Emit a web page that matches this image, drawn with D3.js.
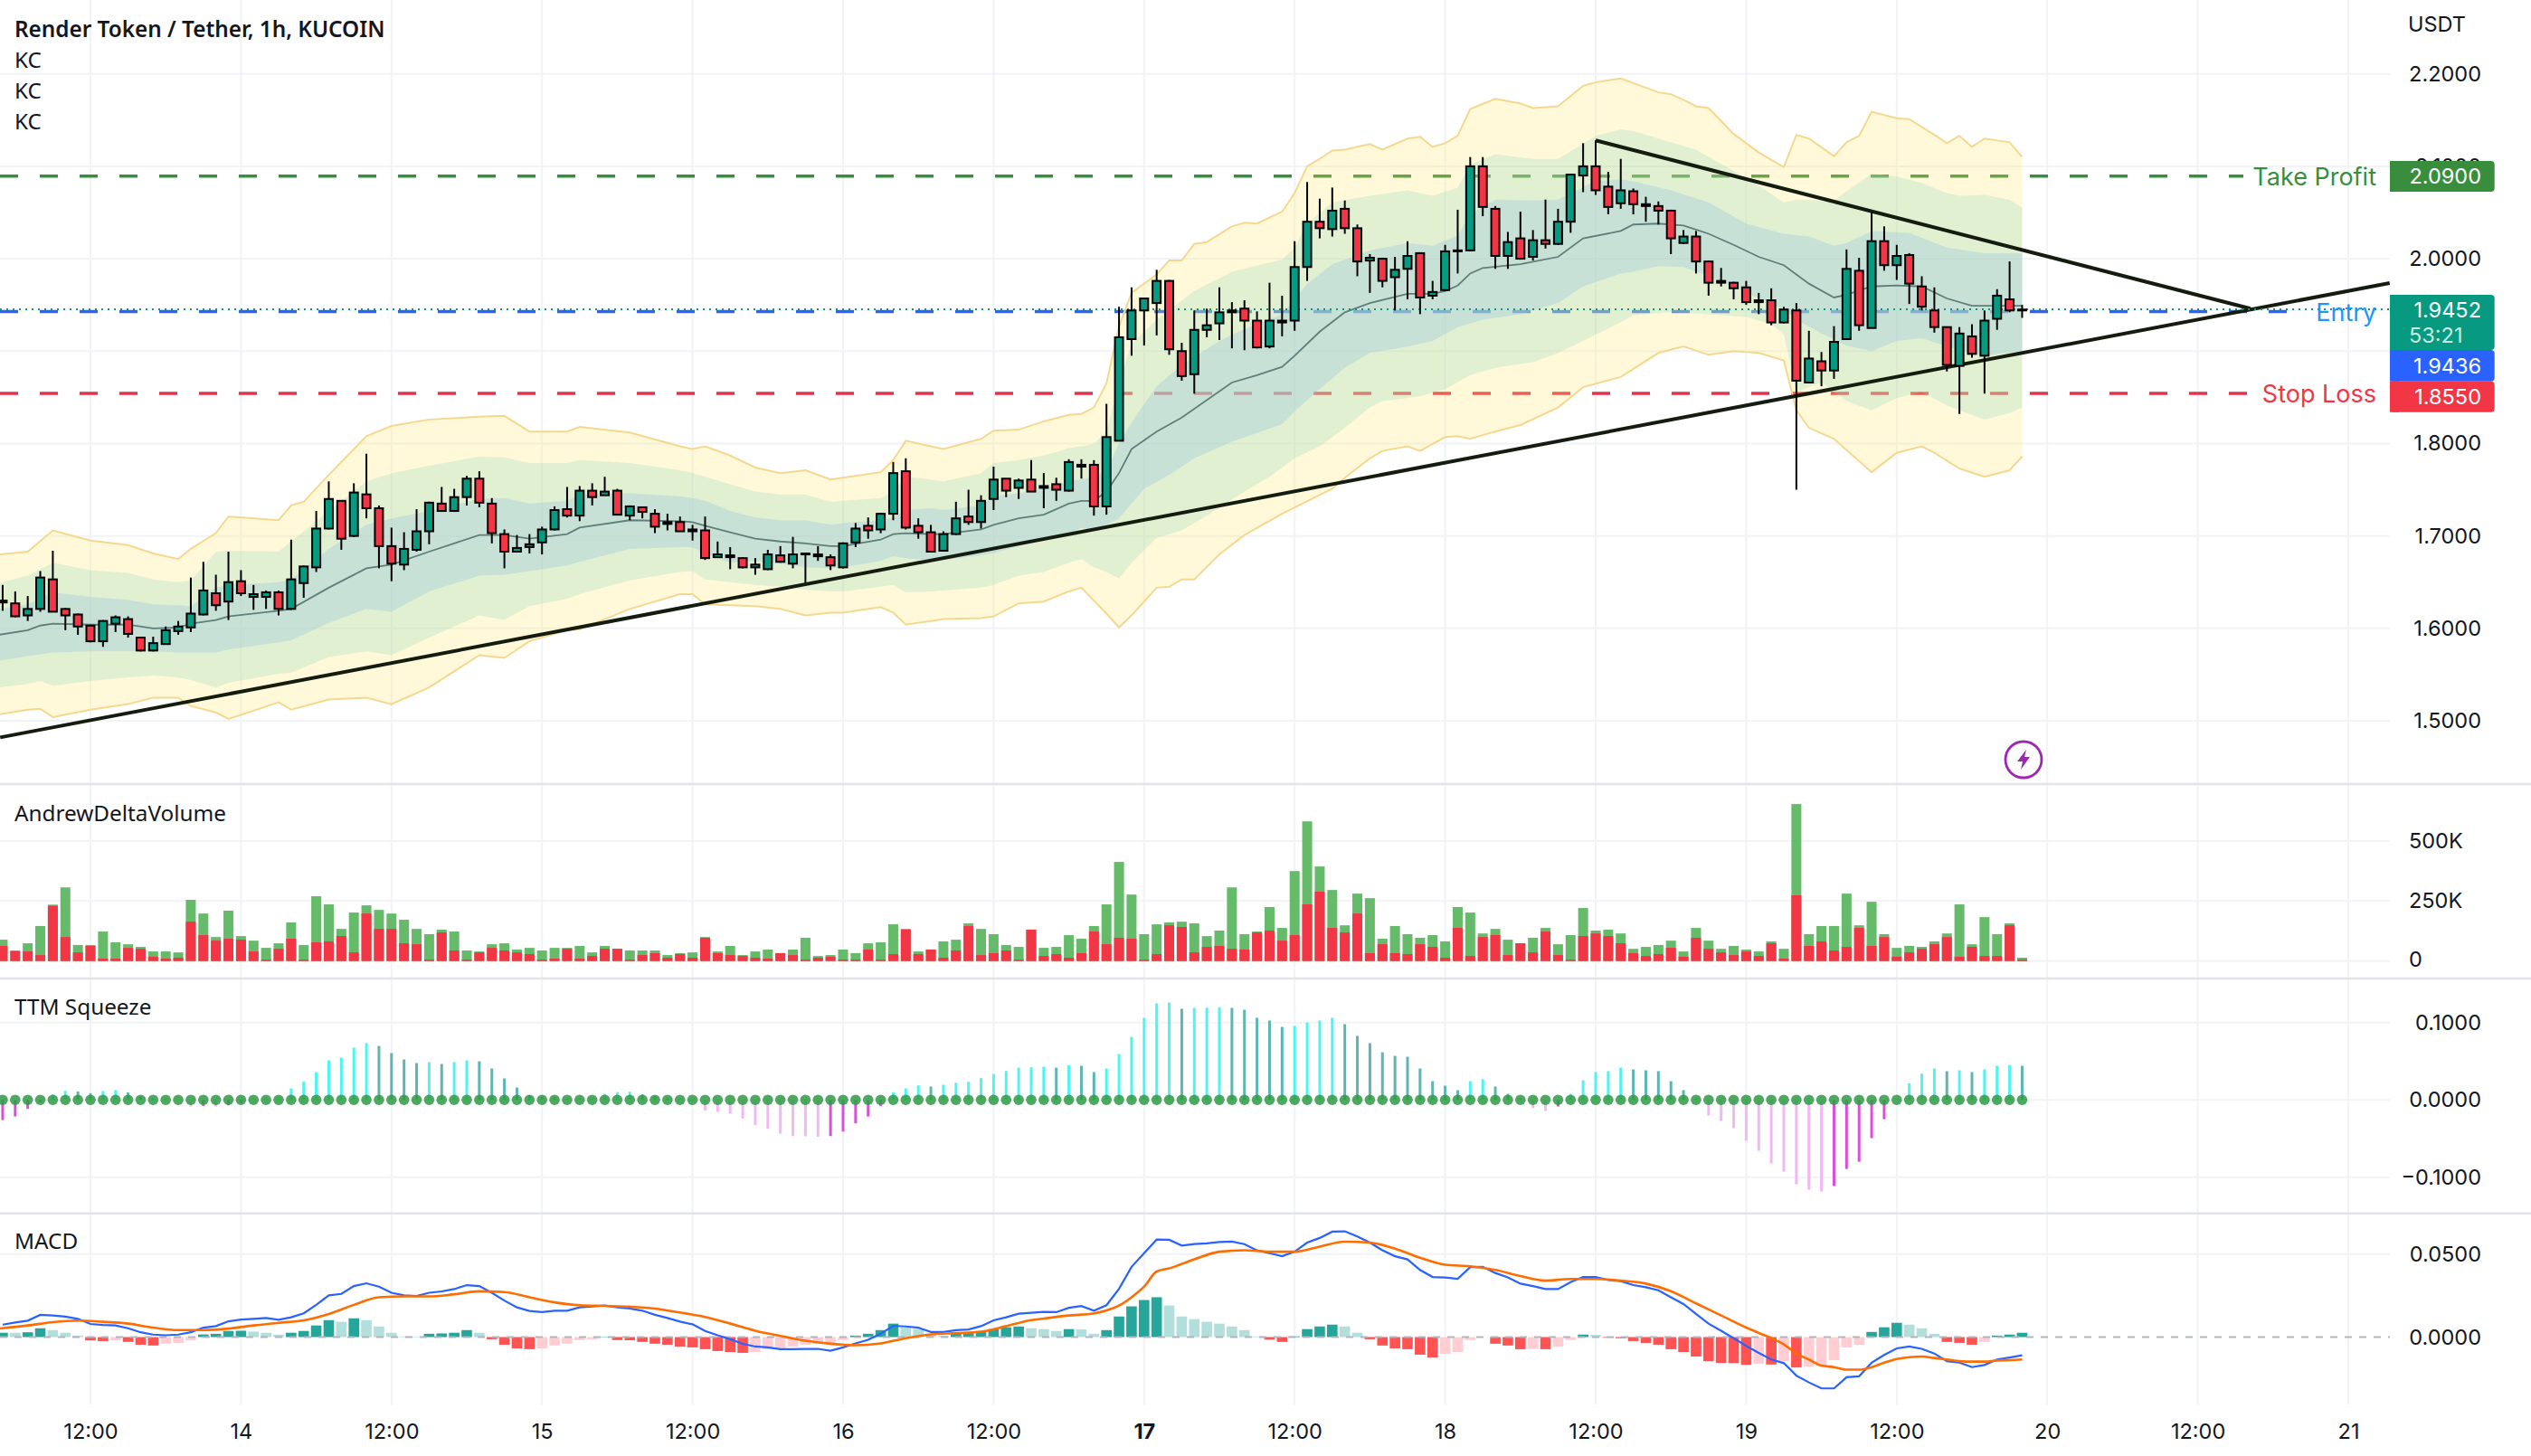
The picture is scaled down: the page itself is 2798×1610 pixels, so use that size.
<!DOCTYPE html>
<html>
<head>
<meta charset="utf-8">
<script src="https://cdn.jsdelivr.net/npm/d3@7"></script>
<style>
  body { margin: 0; background: #fff; }
  text { font-family: Inter, sans-serif; fill: #131722; }
  .leg { font-family: "Noto Sans", sans-serif; }
</style>
</head>
<body>
<script>
const W = 2798, H = 1610;

// hours since 12:00 on the 13th, first candle is at -7, last one at 154
const firstHour = -7;

const opens = [
  1.628,1.627,1.614,1.621,1.653,1.621,1.615,1.603,1.586,1.605,
  1.610,1.590,1.576,1.583,1.597,1.601,1.615,1.638,1.629,1.651,
  1.634,1.634,1.639,1.621,1.649,1.666,1.708,1.738,1.700,1.745,
  1.730,1.689,1.669,1.685,1.705,1.735,1.727,1.742,1.762,1.735,
  1.702,1.683,1.688,1.693,1.707,1.729,1.722,1.749,1.744,1.749,
  1.722,1.731,1.724,1.713,1.715,1.707,1.706,1.677,1.677,1.676,
  1.666,1.664,1.679,1.670,1.680,1.678,1.677,1.666,1.693,1.711,
  1.707,1.724,1.770,1.711,1.704,1.684,1.702,1.721,1.715,1.740,
  1.762,1.752,1.761,1.752,1.756,1.749,1.775,1.777,1.732,1.803,
  1.913,1.944,1.952,1.976,1.900,1.875,1.923,1.930,1.942,1.946,
  1.933,1.905,1.931,1.933,1.991,2.040,2.032,2.054,2.033,1.998,
  2.000,1.980,1.989,2.006,1.960,1.966,2.008,2.009,2.100,2.054,
  2.003,2.022,2.002,2.020,2.016,2.040,2.090,2.100,2.078,2.060,
  2.073,2.057,2.057,2.052,2.017,2.024,1.997,1.974,1.974,1.969,
  1.953,1.955,1.931,1.944,1.866,1.889,1.879,1.913,1.987,1.925,
  2.019,1.993,2.004,1.970,1.944,1.926,1.884,1.916,1.895,1.935,
  1.956,1.944];
const highs = [
  1.647,1.640,1.635,1.662,1.684,1.622,1.616,1.604,1.609,1.614,
  1.613,1.590,1.591,1.602,1.608,1.655,1.672,1.658,1.683,1.663,
  1.647,1.641,1.641,1.696,1.668,1.727,1.759,1.738,1.757,1.789,
  1.733,1.709,1.704,1.729,1.737,1.753,1.751,1.765,1.770,1.741,
  1.707,1.701,1.702,1.710,1.732,1.753,1.754,1.757,1.764,1.751,
  1.733,1.731,1.729,1.724,1.721,1.712,1.721,1.694,1.688,1.677,
  1.676,1.685,1.689,1.699,1.682,1.689,1.680,1.693,1.714,1.720,
  1.725,1.780,1.784,1.719,1.712,1.705,1.737,1.750,1.744,1.775,
  1.762,1.762,1.782,1.768,1.763,1.783,1.783,1.782,1.843,1.948,
  1.969,1.958,1.988,1.977,1.909,1.944,1.946,1.969,1.953,1.955,
  1.943,1.974,1.960,2.019,2.083,2.065,2.077,2.063,2.037,2.005,
  2.001,2.002,2.019,2.007,1.976,2.015,2.053,2.110,2.110,2.057,
  2.029,2.051,2.031,2.064,2.054,2.092,2.125,2.128,2.094,2.108,
  2.076,2.067,2.062,2.053,2.031,2.030,1.998,1.990,1.975,1.976,
  1.963,1.968,1.948,1.952,1.922,1.899,1.927,2.010,2.001,2.051,
  2.035,2.015,2.006,1.981,1.969,1.926,1.926,1.929,1.944,1.967,
  1.997,1.950];
const lows = [
  1.619,1.612,1.608,1.618,1.618,1.598,1.593,1.585,1.580,1.596,
  1.590,1.575,1.575,1.583,1.593,1.596,1.614,1.619,1.609,1.635,
  1.620,1.621,1.614,1.620,1.633,1.661,1.707,1.685,1.699,1.719,
  1.665,1.651,1.663,1.683,1.691,1.727,1.726,1.733,1.731,1.692,
  1.665,1.683,1.681,1.680,1.706,1.720,1.716,1.733,1.744,1.723,
  1.717,1.719,1.703,1.706,1.705,1.695,1.674,1.677,1.664,1.665,
  1.658,1.663,1.671,1.665,1.649,1.673,1.663,1.665,1.688,1.697,
  1.703,1.717,1.707,1.697,1.683,1.683,1.701,1.712,1.708,1.728,
  1.742,1.740,1.748,1.730,1.738,1.748,1.762,1.722,1.723,1.803,
  1.895,1.906,1.917,1.896,1.868,1.854,1.915,1.912,1.903,1.901,
  1.903,1.903,1.916,1.922,1.976,2.022,2.024,2.027,1.981,1.963,
  1.969,1.944,1.956,1.940,1.956,1.965,1.984,2.008,2.046,1.989,
  1.989,1.999,1.998,2.011,2.015,2.028,2.072,2.069,2.048,2.054,
  2.048,2.040,2.037,2.005,2.016,1.984,1.960,1.970,1.956,1.950,
  1.940,1.928,1.930,1.750,1.866,1.862,1.870,1.912,1.922,1.925,
  1.987,1.977,1.951,1.944,1.920,1.878,1.832,1.893,1.854,1.923,
  1.942,1.936];
const closes = [
  1.630,1.613,1.621,1.655,1.618,1.614,1.602,1.586,1.608,1.612,
  1.594,1.576,1.584,1.598,1.602,1.616,1.641,1.625,1.650,1.638,
  1.637,1.639,1.621,1.653,1.667,1.708,1.740,1.697,1.747,1.730,
  1.689,1.670,1.686,1.705,1.736,1.727,1.742,1.762,1.736,1.703,
  1.683,1.687,1.691,1.707,1.728,1.722,1.749,1.742,1.748,1.723,
  1.732,1.726,1.710,1.715,1.705,1.705,1.676,1.680,1.679,1.666,
  1.669,1.680,1.672,1.680,1.681,1.680,1.668,1.692,1.708,1.706,
  1.724,1.768,1.709,1.704,1.683,1.702,1.719,1.715,1.738,1.761,
  1.749,1.760,1.748,1.754,1.750,1.780,1.777,1.732,1.807,1.915,
  1.944,1.957,1.976,1.902,1.873,1.923,1.928,1.942,1.944,1.933,
  1.904,1.933,1.933,1.991,2.040,2.033,2.052,2.033,1.997,2.001,
  1.976,1.988,2.003,1.958,1.964,2.008,2.009,2.100,2.056,2.003,
  2.018,2.000,2.020,2.016,2.040,2.091,2.100,2.074,2.056,2.074,
  2.059,2.059,2.052,2.022,2.024,1.997,1.974,1.976,1.968,1.953,
  1.955,1.931,1.945,1.868,1.892,1.879,1.910,1.989,1.928,2.019,
  1.993,2.003,1.973,1.948,1.926,1.885,1.919,1.897,1.933,1.960,
  1.944,1.945];

// KC bands, [hour, price]
const kcOuterTop = [[-7.3,1.680],[-5,1.683],[-3,1.706],[0,1.695],[3,1.690],[5,1.681],[7,1.675],[8,1.686],[10,1.703],[11,1.721],[15,1.717],[16,1.733],[17,1.737],[19,1.766],[22,1.808],[24,1.819],[27,1.826],[31,1.829],[33,1.830],[35,1.813],[38,1.813],[39,1.818],[43,1.812],[47,1.797],[48,1.794],[49,1.797],[51,1.787],[53,1.774],[55,1.768],[57,1.771],[59,1.761],[60,1.763],[63,1.769],[64,1.782],[65,1.803],[67,1.797],[68,1.794],[71,1.805],[72,1.814],[74,1.815],[76,1.824],[78,1.831],[79,1.832],[80,1.839],[81,1.865],[82,1.927],[83,1.963],[85,1.983],[86,1.998],[87,1.998],[88,2.016],[89,2.018],[91,2.035],[92,2.039],[93,2.038],[95,2.051],[96,2.071],[97,2.100],[98,2.108],[99,2.117],[100,2.118],[102,2.124],[103,2.118],[105,2.130],[106,2.132],[107,2.121],[108,2.125],[109,2.133],[110,2.162],[112,2.173],[114,2.168],[115,2.163],[117,2.165],[119,2.187],[120,2.191],[122,2.195],[123,2.190],[125,2.180],[126,2.178],[127,2.172],[128,2.165],[129,2.163],[131,2.135],[133,2.115],[135,2.099],[136,2.134],[137,2.130],[139,2.111],[140,2.126],[141,2.133],[142,2.159],[144,2.152],[145,2.151],[147,2.134],[148,2.125],[149,2.133],[150,2.121],[151,2.130],[153,2.126],[154,2.110]];
const kcMiddleTop = [[-7.3,1.649],[-5,1.657],[-3,1.671],[0,1.663],[3,1.660],[5,1.653],[7,1.650],[8,1.652],[10,1.683],[11,1.684],[15,1.683],[16,1.694],[19,1.727],[22,1.759],[24,1.768],[27,1.776],[31,1.786],[33,1.785],[35,1.779],[38,1.779],[39,1.782],[43,1.779],[47,1.771],[48,1.768],[49,1.764],[51,1.756],[53,1.748],[55,1.745],[57,1.745],[59,1.737],[60,1.738],[63,1.741],[64,1.748],[65,1.764],[67,1.761],[68,1.759],[71,1.768],[72,1.779],[74,1.782],[76,1.787],[78,1.795],[79,1.797],[80,1.800],[81,1.813],[82,1.866],[83,1.908],[85,1.934],[88,1.965],[91,1.986],[95,1.999],[96,2.012],[97,2.038],[99,2.061],[102,2.068],[105,2.074],[107,2.068],[109,2.077],[110,2.102],[112,2.113],[115,2.108],[117,2.108],[120,2.133],[122,2.140],[123,2.138],[126,2.126],[128,2.118],[131,2.095],[133,2.079],[135,2.061],[136,2.064],[139,2.063],[140,2.073],[142,2.092],[144,2.089],[146,2.082],[148,2.071],[149,2.068],[151,2.069],[153,2.064],[154,2.055]];
const kcInnerTop = [[-7.3,1.621],[-5,1.626],[-3,1.639],[0,1.634],[3,1.631],[5,1.626],[7,1.625],[8,1.624],[10,1.644],[11,1.647],[15,1.650],[16,1.653],[19,1.686],[22,1.712],[24,1.719],[27,1.727],[31,1.740],[33,1.741],[35,1.735],[38,1.738],[39,1.745],[43,1.746],[47,1.743],[48,1.741],[49,1.738],[51,1.727],[53,1.720],[55,1.717],[57,1.717],[59,1.712],[60,1.714],[63,1.717],[64,1.720],[65,1.728],[67,1.730],[68,1.728],[71,1.733],[72,1.743],[74,1.746],[76,1.751],[78,1.759],[79,1.761],[80,1.764],[81,1.771],[82,1.800],[83,1.823],[85,1.862],[87,1.885],[90,1.911],[92,1.924],[95,1.940],[97,1.973],[99,1.994],[102,2.009],[105,2.017],[107,2.014],[109,2.025],[110,2.048],[112,2.064],[115,2.063],[117,2.064],[120,2.084],[122,2.086],[123,2.084],[126,2.074],[129,2.061],[132,2.038],[135,2.027],[137,2.024],[139,2.014],[140,2.017],[142,2.030],[145,2.028],[148,2.012],[151,2.006],[154,2.006]];
const kcBasis = [[-7.3,1.593],[-5,1.598],[-4,1.603],[-3,1.605],[0,1.604],[3,1.604],[5,1.600],[7,1.601],[8,1.605],[10,1.609],[11,1.613],[15,1.619],[16,1.621],[19,1.644],[22,1.665],[24,1.669],[27,1.683],[31,1.701],[33,1.701],[35,1.697],[38,1.702],[39,1.709],[43,1.717],[47,1.716],[48,1.715],[49,1.711],[51,1.704],[53,1.697],[55,1.694],[57,1.692],[59,1.689],[60,1.689],[63,1.696],[64,1.702],[65,1.703],[67,1.702],[68,1.702],[71,1.707],[72,1.712],[74,1.719],[76,1.723],[78,1.735],[79,1.738],[80,1.738],[81,1.748],[82,1.768],[83,1.794],[85,1.813],[87,1.828],[91,1.866],[93,1.874],[95,1.883],[96,1.895],[98,1.921],[100,1.942],[102,1.952],[105,1.962],[107,1.962],[108,1.965],[109,1.971],[110,1.984],[111,1.990],[114,1.994],[117,2.002],[119,2.022],[122,2.030],[123,2.037],[125,2.038],[127,2.036],[129,2.027],[131,2.015],[133,2.002],[135,1.993],[137,1.973],[139,1.958],[140,1.961],[142,1.970],[144,1.971],[146,1.970],[148,1.957],[150,1.949],[152,1.949],[154,1.949]];
const kcInnerBot = [[-7.3,1.565],[-5,1.570],[-3,1.574],[0,1.575],[3,1.575],[5,1.575],[7,1.574],[10,1.574],[11,1.577],[15,1.585],[16,1.587],[19,1.606],[22,1.621],[24,1.618],[27,1.640],[31,1.657],[33,1.658],[35,1.662],[38,1.668],[39,1.672],[43,1.686],[47,1.688],[48,1.688],[49,1.681],[51,1.671],[53,1.673],[55,1.670],[57,1.666],[59,1.665],[60,1.666],[63,1.673],[64,1.678],[65,1.676],[67,1.673],[68,1.674],[71,1.679],[72,1.681],[74,1.689],[76,1.696],[78,1.701],[79,1.709],[80,1.705],[81,1.712],[82,1.719],[84,1.751],[86,1.766],[88,1.784],[91,1.802],[95,1.821],[96,1.835],[98,1.859],[100,1.882],[102,1.898],[105,1.905],[107,1.911],[109,1.926],[111,1.934],[114,1.940],[117,1.952],[119,1.970],[122,1.984],[123,1.986],[125,1.992],[127,1.991],[129,1.981],[131,1.970],[133,1.957],[135,1.945],[136,1.934],[138,1.919],[140,1.906],[142,1.900],[144,1.911],[146,1.914],[148,1.905],[151,1.895],[154,1.900]];
const kcMiddleBot = [[-7.3,1.536],[-5,1.540],[-4,1.543],[-3,1.538],[0,1.543],[3,1.547],[5,1.549],[7,1.547],[8,1.544],[10,1.536],[11,1.541],[15,1.551],[16,1.552],[19,1.569],[22,1.575],[24,1.571],[27,1.590],[31,1.614],[33,1.609],[35,1.624],[38,1.632],[39,1.637],[43,1.652],[47,1.661],[48,1.662],[49,1.653],[51,1.650],[53,1.647],[55,1.645],[57,1.642],[59,1.640],[60,1.640],[63,1.645],[64,1.647],[65,1.639],[67,1.640],[68,1.641],[71,1.644],[72,1.647],[74,1.657],[76,1.661],[78,1.671],[79,1.675],[80,1.666],[81,1.661],[82,1.654],[83,1.671],[85,1.698],[87,1.706],[89,1.722],[92,1.748],[94,1.764],[96,1.784],[98,1.797],[100,1.817],[102,1.839],[103,1.846],[106,1.851],[108,1.859],[110,1.874],[112,1.882],[115,1.888],[117,1.898],[119,1.911],[122,1.931],[123,1.939],[126,1.942],[129,1.940],[132,1.937],[134,1.929],[135,1.918],[136,1.856],[138,1.866],[140,1.846],[142,1.836],[144,1.849],[146,1.856],[148,1.841],[151,1.826],[153,1.833],[154,1.839]];
const kcOuterBot = [[-7.3,1.507],[-5,1.512],[-4,1.513],[-3,1.504],[0,1.512],[3,1.518],[5,1.525],[7,1.525],[8,1.516],[10,1.509],[11,1.502],[15,1.520],[16,1.512],[19,1.523],[22,1.525],[24,1.518],[27,1.536],[31,1.571],[33,1.568],[35,1.586],[38,1.598],[39,1.599],[43,1.621],[47,1.637],[48,1.637],[49,1.626],[51,1.625],[53,1.624],[55,1.621],[57,1.614],[59,1.617],[60,1.617],[63,1.623],[64,1.617],[65,1.604],[67,1.608],[68,1.610],[71,1.611],[72,1.613],[74,1.627],[76,1.629],[78,1.640],[79,1.644],[80,1.630],[81,1.616],[82,1.601],[83,1.614],[85,1.644],[86,1.645],[87,1.653],[88,1.653],[90,1.680],[92,1.701],[95,1.724],[99,1.751],[100,1.763],[102,1.784],[103,1.792],[105,1.797],[106,1.792],[108,1.807],[109,1.808],[110,1.805],[112,1.813],[114,1.820],[117,1.839],[119,1.861],[122,1.872],[125,1.898],[127,1.905],[129,1.896],[131,1.900],[133,1.898],[135,1.890],[136,1.836],[137,1.817],[139,1.805],[142,1.769],[144,1.790],[146,1.797],[147,1.790],[149,1.773],[151,1.764],[153,1.771],[154,1.786]];

// hand drawn trend lines, [hour, price]
const trendUp = [[-7.2,1.482],[183.3,1.9736]];
const trendDown = [[120,2.128],[172.2,1.946]];

const levelPrices = [2.09, 1.9436, 1.855];
const levelNames = ["Take Profit", "Entry", "Stop Loss"];
const levelColors = ["#388e3c", "#2962ff", "#e3334c"];
const levelTextColors = ["#388e3c", "#2196f3", "#f23645"];
const levelEnds = [2480, 2528, 2484];
const lastPrice = 1.9452;

// volume pane, in thousands
const volTotal = [
  89,44,74,146,235,307,67,67,123,78,
  70,59,40,40,36,255,198,100,210,104,
  85,55,74,161,67,270,236,134,202,232,
  213,198,172,134,112,131,123,44,40,70,
  74,48,55,44,55,55,63,36,63,51,
  44,44,44,25,33,36,100,40,63,25,
  40,48,33,48,97,21,25,48,33,74,
  78,153,134,40,48,82,89,157,134,112,
  67,59,131,55,59,108,93,146,236,413,
  277,112,153,161,164,157,104,127,307,112,
  123,225,138,375,582,394,296,149,281,262,
  93,146,112,97,108,82,225,202,115,134,
  89,74,97,138,70,108,221,127,131,115,
  51,59,67,85,40,138,85,51,63,48,
  40,82,51,654,112,146,146,281,149,247,
  112,55,63,59,82,115,236,70,183,112,
  157,14];
const volSell = [
  63,41,40,25,230,100,36,63,10,10,
  55,51,18,10,14,164,108,85,93,89,
  40,6,51,93,6,78,82,104,36,198,
  134,134,74,70,6,119,44,6,36,55,
  44,36,29,6,10,51,10,21,51,51,
  6,25,33,14,29,14,97,33,25,21,
  14,10,33,25,6,14,18,6,6,48,
  6,29,131,29,48,14,44,146,25,33,
  44,6,131,21,29,14,33,123,70,97,
  93,6,29,149,142,36,59,63,51,48,
  119,127,85,108,236,289,138,119,198,33,
  70,33,29,70,59,14,138,21,100,108,
  25,74,36,123,25,6,104,115,104,74,
  33,21,29,55,18,97,51,36,25,40,
  21,74,10,274,63,82,44,59,138,63,
  100,18,36,51,70,100,18,59,21,21,
  149,6];

const squeeze = [
  -.0261,-.0214,-.0117,-.0031,.0070,.0117,.0109,.0086,.0113,.0125,
  .0097,.0047,.0020,.0012,.0004,-.0086,-.0078,-.0086,-.0070,-.0039,
  .0008,.0020,.0031,.0148,.0234,.0359,.0511,.0546,.0675,.0733,
  .0698,.0605,.0523,.0476,.0488,.0464,.0488,.0511,.0499,.0406,
  .0277,.0160,.0059,.0039,.0031,.0020,.0023,.0031,.0078,.0101,
  .0105,.0070,.0047,.0020,.0008,-.0020,-.0137,-.0156,-.0176,-.0242,
  -.0324,-.0374,-.0437,-.0468,-.0472,-.0476,-.0468,-.0410,-.0304,-.0215,
  -.0078,.0098,.0148,.0187,.0172,.0195,.0222,.0234,.0281,.0335,
  .0374,.0417,.0421,.0429,.0417,.0449,.0441,.0359,.0406,.0593,
  .0815,.1061,.1248,.1260,.1178,.1190,.1193,.1197,.1190,.1166,
  .1061,.1026,.0944,.0956,.1002,.1026,.1061,.0979,.0827,.0733,
  .0616,.0569,.0558,.0406,.0242,.0183,.0125,.0242,.0269,.0172,
  .0078,.0020,-.0105,-.0144,-.0086,.0078,.0254,.0359,.0371,.0417,
  .0394,.0382,.0371,.0242,.0125,.0020,-.0203,-.0273,-.0367,-.0530,
  -.0659,-.0823,-.0928,-.1092,-.1162,-.1186,-.1115,-.0893,-.0800,-.0495,
  -.0250,.0012,.0215,.0339,.0406,.0371,.0382,.0359,.0394,.0441,
  .0452,.0441];

const macdHist = [
  .0026,.0026,.0029,.0053,.0042,.0026,.0009,-.0020,-.0024,-.0020,
  -.0029,-.0046,-.0051,-.0040,-.0035,-.0020,.0016,.0020,.0037,.0038,
  .0033,.0026,.0015,.0026,.0037,.0070,.0102,.0092,.0113,.0102,
  .0064,.0026,.0004,.0003,.0020,.0022,.0026,.0042,.0026,-.0013,
  -.0046,-.0068,-.0073,-.0068,-.0051,-.0040,-.0018,-.0013,.0002,-.0018,
  -.0019,-.0029,-.0040,-.0046,-.0057,-.0062,-.0073,-.0084,-.0090,-.0095,
  -.0090,-.0073,-.0068,-.0057,-.0046,-.0040,-.0037,-.0018,.0009,.0020,
  .0042,.0081,.0059,.0048,.0020,.0009,.0020,.0026,.0031,.0048,
  .0059,.0064,.0053,.0048,.0037,.0048,.0046,.0020,.0042,.0124,
  .0185,.0223,.0240,.0190,.0124,.0108,.0092,.0081,.0064,.0042,
  .0004,-.0015,-.0029,.0004,.0048,.0064,.0075,.0064,.0026,-.0013,
  -.0051,-.0068,-.0073,-.0106,-.0123,-.0101,-.0090,-.0018,.0000,-.0040,
  -.0051,-.0073,-.0071,-.0073,-.0057,-.0018,.0015,.0013,-.0004,-.0007,
  -.0024,-.0035,-.0046,-.0073,-.0090,-.0117,-.0145,-.0156,-.0157,-.0167,
  -.0161,-.0165,-.0145,-.0183,-.0178,-.0172,-.0139,-.0062,-.0046,.0031,
  .0059,.0086,.0075,.0053,.0020,-.0029,-.0035,-.0046,-.0029,.0009,
  .0015,.0026];
const macdLine = [
  .0075,.0088,.0099,.0134,.0130,.0123,.0110,.0079,.0073,.0070,
  .0053,.0029,.0015,.0011,.0015,.0029,.0057,.0066,.0095,.0106,
  .0110,.0115,.0104,.0119,.0143,.0194,.0251,.0260,.0307,.0324,
  .0304,.0267,.0251,.0247,.0267,.0275,.0289,.0313,.0307,.0267,
  .0220,.0179,.0157,.0150,.0159,.0159,.0179,.0185,.0190,.0179,
  .0172,.0159,.0134,.0115,.0093,.0077,.0037,.0011,-.0013,-.0040,
  -.0057,-.0062,-.0073,-.0073,-.0071,-.0071,-.0082,-.0062,-.0038,-.0016,
  .0020,.0068,.0064,.0057,.0031,.0031,.0042,.0046,.0066,.0101,
  .0119,.0141,.0146,.0152,.0150,.0176,.0187,.0159,.0192,.0291,
  .0423,.0505,.0587,.0586,.0551,.0560,.0564,.0573,.0575,.0560,
  .0522,.0505,.0487,.0514,.0569,.0597,.0635,.0637,.0606,.0569,
  .0523,.0487,.0468,.0404,.0362,.0359,.0351,.0421,.0423,.0386,
  .0359,.0322,.0307,.0289,.0289,.0331,.0362,.0362,.0344,.0337,
  .0313,.0300,.0282,.0240,.0199,.0139,.0081,.0038,-.0007,-.0053,
  -.0095,-.0135,-.0157,-.0232,-.0273,-.0309,-.0309,-.0242,-.0236,-.0154,
  -.0108,-.0068,-.0057,-.0071,-.0099,-.0145,-.0154,-.0181,-.0168,-.0135,
  -.0123,-.0110];
const macdSignal = [[-7.3,.0051],[-5,.0070],[-3,.0090],[-1,.0099],[1,.0092],[3,.0081],[5,.0057],[7,.0042],[9,.0042],[11,.0051],[13,.0070],[15,.0086],[17,.0101],[19,.0139],[21,.0194],[23,.0240],[25,.0245],[27,.0245],[29,.0258],[31,.0276],[33,.0271],[35,.0240],[37,.0209],[39,.0192],[41,.0188],[43,.0183],[45,.0172],[47,.0148],[49,.0121],[51,.0081],[53,.0038],[55,.0007],[57,-.0022],[59,-.0040],[61,-.0049],[63,-.0038],[65,-.0007],[67,.0016],[69,.0024],[71,.0033],[73,.0066],[75,.0102],[76,.0112],[78,.0130],[80,.0143],[81,.0161],[82,.0190],[83,.0240],[84,.0304],[85,.0395],[86,.0414],[88,.0468],[90,.0514],[92,.0523],[94,.0514],[96,.0514],[98,.0545],[100,.0575],[102,.0569],[104,.0533],[106,.0478],[108,.0436],[110,.0426],[112,.0404],[114,.0368],[116,.0340],[118,.0350],[120,.0350],[122,.0340],[124,.0322],[126,.0276],[128,.0203],[130,.0130],[132,.0057],[134,-.0007],[135,-.0044],[136,-.0099],[137,-.0135],[138,-.0172],[139,-.0181],[140,-.0196],[141,-.0196],[142,-.0181],[143,-.0154],[144,-.0132],[145,-.0121],[146,-.0117],[147,-.0126],[148,-.0135],[149,-.0145],[150,-.0148],[151,-.0148],[152,-.0141],[153,-.0139],[154,-.0135]];

const priceGrid = [2.2, 2.1, 2.0, 1.9, 1.8, 1.7, 1.6, 1.5];
const priceTicks = [2.2, 2.1, 2.0, 1.8, 1.7, 1.6, 1.5]; // 1.9 is hidden behind the tags
const volTicks = [0, 250, 500];
const squeezeTicks = [-0.1, 0, 0.1];
const macdTicks = [0, 0.05];
const timeHours = d3.range(0, 181, 12);
const timeLabels = ["12:00","14","12:00","15","12:00","16","12:00","17","12:00","18","12:00","19","12:00","20","12:00","21"];

const paneW = 2642;

const x = d3.scaleLinear().domain([0, 180]).range([100, 2596]);
const yMain = d3.scaleLinear().domain([1.5, 2.2]).range([797, 81.7]);
const yVol = d3.scaleLinear().domain([0, 500]).range([1062.7, 930]);
const ySq = d3.scaleLinear().domain([-0.1, 0.1]).range([1301.7, 1130.7]);
const yMacd = d3.scaleLinear().domain([0, 0.05]).range([1478.5, 1386.7]);

const hours = opens.map((d, i) => firstHour + i);

const svg = d3.select("body").append("svg")
  .attr("width", W).attr("height", H)
  .style("display", "block");

svg.append("defs").append("clipPath").attr("id", "mainClip")
  .append("rect").attr("width", paneW).attr("height", 866);

//grid
const grid = svg.append("g").attr("stroke", "#f1f3f7").attr("stroke-width", 2);
grid.selectAll(".v").data(timeHours).enter().append("line")
  .attr("x1", d => x(d)).attr("x2", d => x(d))
  .attr("y1", 0).attr("y2", 1553);

const hGrid = [
  ...priceGrid.map(d => yMain(d)),
  ...volTicks.map(d => yVol(d)),
  ...squeezeTicks.map(d => ySq(d)),
  yMacd(0.05)
];
grid.selectAll(".h").data(hGrid).enter().append("line")
  .attr("x1", 0).attr("x2", paneW)
  .attr("y1", d => d).attr("y2", d => d);

// pane separators
svg.append("g").attr("stroke", "#e2e4ea").attr("stroke-width", 2.5)
  .selectAll("line").data([867, 1082, 1341.7]).enter().append("line")
  .attr("x1", 0).attr("x2", W).attr("y1", d => d).attr("y2", d => d);

const main = svg.append("g").attr("clip-path", "url(#mainClip)");

// levels, dashes stop in front of their labels
main.selectAll(".level").data(levelPrices).enter().append("line")
  .attr("x1", 0).attr("x2", (d, i) => levelEnds[i])
  .attr("y1", d => yMain(d) + 0.7).attr("y2", d => yMain(d) + 0.7)
  .attr("stroke", (d, i) => levelColors[i])
  .attr("stroke-width", 3.5)
  .attr("stroke-dasharray", "20 24");

const priceLine = d3.line().x(d => x(d[0])).y(d => yMain(d[1]));

// bands sit over the levels, that is why those look muted inside
const band = (top, bot) => priceLine(top.concat(bot.slice().reverse())) + "Z";
main.append("path").attr("d", band(kcOuterTop, kcOuterBot))
  .attr("fill", "rgb(255,231,109)").attr("fill-opacity", 0.25);
main.append("path").attr("d", band(kcMiddleTop, kcMiddleBot))
  .attr("fill", "rgb(158,219,192)").attr("fill-opacity", 0.3);
main.append("path").attr("d", band(kcInnerTop, kcInnerBot))
  .attr("fill", "rgb(161,202,223)").attr("fill-opacity", 0.4);
main.selectAll(".edge").data([kcOuterTop, kcOuterBot]).enter().append("path")
  .attr("d", priceLine)
  .attr("fill", "none").attr("stroke", "#f5d88f").attr("stroke-width", 2);

// trend lines stay dark inside the bands, only slightly tinted
main.selectAll(".trend").data([trendUp, trendDown]).enter().append("path")
  .attr("d", priceLine)
  .attr("fill", "none").attr("stroke", "#141c10").attr("stroke-width", 4);

main.append("path").attr("d", priceLine(kcBasis))
  .attr("fill", "none").attr("stroke", "#5f7f7a").attr("stroke-width", 1.8);

main.append("line")
  .attr("x1", 0).attr("x2", paneW)
  .attr("y1", yMain(lastPrice)).attr("y2", yMain(lastPrice))
  .attr("stroke", "#089981").attr("stroke-width", 2)
  .attr("stroke-dasharray", "2 5");

//candles
main.selectAll(".wick").data(hours).enter().append("line")
  .attr("x1", d => x(d)).attr("x2", d => x(d))
  .attr("y1", (d, i) => yMain(highs[i]))
  .attr("y2", (d, i) => yMain(lows[i]))
  .attr("stroke", "#000").attr("stroke-width", 2);

main.selectAll(".body").data(hours).enter().append("rect")
  .attr("x", d => x(d) - 4.5)
  .attr("width", 9)
  .attr("y", (d, i) => yMain(Math.max(opens[i], closes[i])))
  .attr("height", (d, i) => Math.abs(yMain(opens[i]) - yMain(closes[i])))
  .attr("fill", (d, i) => closes[i] >= opens[i] ? "#089981" : "#f23645")
  .attr("stroke", "#000").attr("stroke-width", 2);

//volume
svg.selectAll(".volTotal").data(hours).enter().append("rect")
  .attr("x", d => x(d) - 5.5).attr("width", 11)
  .attr("y", (d, i) => yVol(volTotal[i]))
  .attr("height", (d, i) => yVol(0) - yVol(volTotal[i]))
  .attr("fill", "#66bb6a");
svg.selectAll(".volSell").data(hours).enter().append("rect")
  .attr("x", d => x(d) - 5.5).attr("width", 11)
  .attr("y", (d, i) => yVol(volSell[i]))
  .attr("height", (d, i) => yVol(0) - yVol(volSell[i]))
  .attr("fill", "#f23645");

//squeeze, colour comes from the direction of the histogram
function squeezeColor(i) {
  let v = squeeze[i];
  let prev = i > 0 ? squeeze[i - 1] : -1;
  if (v >= 0) { return v > prev ? "#4df5f0" : "#5db6b2"; }
  return v < prev ? "#f3b8f3" : "#d94fd9";
}
svg.selectAll(".sq").data(hours).enter().append("rect")
  .attr("x", d => x(d) - 1.5).attr("width", 3)
  .attr("y", (d, i) => Math.min(ySq(squeeze[i]), ySq(0)))
  .attr("height", (d, i) => Math.abs(ySq(squeeze[i]) - ySq(0)))
  .attr("fill", (d, i) => squeezeColor(i));
svg.selectAll(".dot").data(hours).enter().append("circle")
  .attr("cx", d => x(d)).attr("cy", ySq(0)).attr("r", 5.8)
  .attr("fill", "#2e9a44").attr("fill-opacity", 0.85);

//macd
function macdColor(i) {
  let v = macdHist[i];
  let prev = i > 0 ? macdHist[i - 1] : 0;
  if (v >= 0) { return v > prev ? "#26a69a" : "#b2dfdb"; }
  return v < prev ? "#ff5252" : "#ffcdd2";
}
svg.selectAll(".hist").data(hours).enter().append("rect")
  .attr("x", d => x(d) - 5.8).attr("width", 11.6)
  .attr("y", (d, i) => Math.min(yMacd(macdHist[i]), yMacd(0)))
  .attr("height", (d, i) => Math.abs(yMacd(macdHist[i]) - yMacd(0)))
  .attr("fill", (d, i) => macdColor(i));
svg.append("line")
  .attr("x1", 0).attr("x2", paneW)
  .attr("y1", yMacd(0)).attr("y2", yMacd(0))
  .attr("stroke", "#b2b5be").attr("stroke-width", 2)
  .attr("stroke-dasharray", "8 8");

const macdPath = d3.line().x((d, i) => x(hours[i])).y(d => yMacd(d));
svg.append("path").attr("d", macdPath(macdLine))
  .attr("fill", "none").attr("stroke", "#2962ff").attr("stroke-width", 2.2);
svg.append("path")
  .attr("d", d3.line().x(d => x(d[0])).y(d => yMacd(d[1])).curve(d3.curveMonotoneX)(macdSignal))
  .attr("fill", "none").attr("stroke", "#ff6d00").attr("stroke-width", 2.6);

//axes
function styleAxis(g) {
  g.select(".domain").remove();
  g.selectAll("text").attr("font-size", 23.5).attr("font-family", "Inter, sans-serif").attr("fill", "#131722");
  return g;
}
const fmt4 = d => d3.format(".4f")(d).replace("-", "\u2212");
const rightAxis = (scale, ticks) => {
  let g = svg.append("g").attr("transform", "translate(2743,0)")
    .call(d3.axisRight(scale).tickValues(ticks).tickSize(0).tickPadding(0).tickFormat(fmt4));
  styleAxis(g);
  g.selectAll("text").attr("text-anchor", "end");
};
rightAxis(yMain, priceTicks);
rightAxis(ySq, squeezeTicks);
rightAxis(yMacd, macdTicks);

const volAxis = svg.append("g").attr("transform", "translate(2663,0)")
  .call(d3.axisRight(yVol).tickValues(volTicks).tickSize(0).tickPadding(0)
    .tickFormat(d => d === 0 ? "0" : d + "K"));
styleAxis(volAxis);
volAxis.selectAll("text").attr("y", (d) => d === 0 ? -2 : 0);

const timeAxis = svg.append("g").attr("transform", "translate(0,1574)")
  .call(d3.axisBottom(x).tickValues(timeHours).tickSize(0).tickPadding(0)
    .tickFormat((d, i) => timeLabels[i]));
styleAxis(timeAxis);
timeAxis.selectAll("text").attr("font-weight", (d, i) => timeLabels[i] === "17" ? 700 : 400);

svg.append("text").attr("x", 2662).attr("y", 35).attr("font-size", 23.5).text("USDT");

// level names and price tags
const nameBase = [205, 355, 445];
svg.selectAll(".lname").data(levelNames).enter().append("text")
  .attr("x", 2627).attr("y", (d, i) => nameBase[i])
  .attr("text-anchor", "end").attr("font-size", 27)
  .style("fill", (d, i) => levelTextColors[i]).text(d => d);

const tags = [
  { top: 178, bottom: 212, color: "#388e3c", label: fmt4(levelPrices[0]), mid: 195 },
  { top: 326, bottom: 387, color: "#089981", label: fmt4(lastPrice), mid: 342.7 },
  { top: 387, bottom: 421.7, color: "#2962ff", label: fmt4(levelPrices[1]), mid: 404.7 },
  { top: 421.7, bottom: 455.7, color: "#f23645", label: fmt4(levelPrices[2]), mid: 438.7 }
];
const tagG = svg.append("g");
tags.forEach(t => {
  tagG.append("rect").attr("x", 2642).attr("y", t.top)
    .attr("width", 115.7).attr("height", t.bottom - t.top).attr("rx", 4)
    .attr("fill", t.color);
  tagG.append("rect").attr("x", 2642).attr("y", t.top)
    .attr("width", 10).attr("height", t.bottom - t.top)
    .attr("fill", t.color);
  tagG.append("text").attr("x", 2743).attr("y", t.mid).attr("dy", "0.35em")
    .attr("text-anchor", "end").attr("font-size", 23.5)
    .style("fill", "#fff").text(t.label);
});
tagG.append("text").attr("x", 2663).attr("y", 370.7).attr("dy", "0.35em")
  .attr("font-size", 23.5).style("fill", "#c4ece0").text("53:21");

//legends
const legend = svg.append("g").attr("font-size", 24.3);
legend.append("text").attr("class", "leg").attr("x", 16).attr("y", 41)
  .attr("font-weight", 600).text("Render Token / Tether, 1h, KUCOIN");
[75, 109, 143].forEach(b => {
  legend.append("text").attr("class", "leg").attr("x", 16).attr("y", b).text("KC");
});
legend.append("text").attr("class", "leg").attr("x", 16).attr("y", 908).text("AndrewDeltaVolume");
legend.append("text").attr("class", "leg").attr("x", 16).attr("y", 1122).text("TTM Squeeze");
legend.append("text").attr("class", "leg").attr("x", 16).attr("y", 1381).text("MACD");

// purple lightning badge
const badge = svg.append("g").attr("transform", "translate(2237,840)");
badge.append("circle").attr("r", 20).attr("fill", "#fff")
  .attr("stroke", "#9c27b0").attr("stroke-width", 2.8);
badge.append("path").attr("d", "M3,-11 L-7,2 L-1,2 L-3,11 L7,-3 L1,-3 Z")
  .attr("fill", "#9c27b0");
</script>
</body>
</html>
